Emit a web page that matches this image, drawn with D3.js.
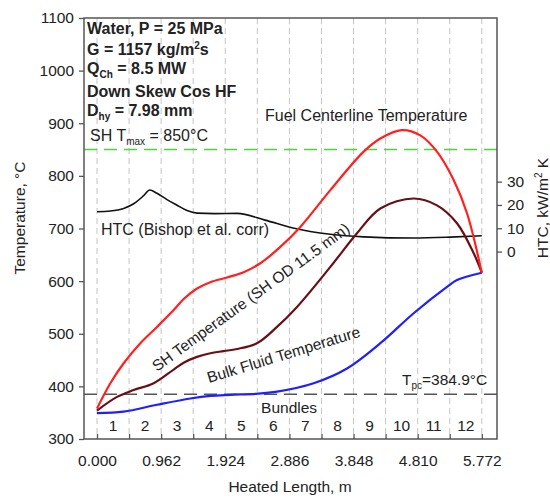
<!DOCTYPE html>
<html>
<head>
<meta charset="utf-8">
<script src="https://cdn.jsdelivr.net/npm/d3@7"></script>
<style>
  body { margin: 0; background: #fff; }
  text { font-family: "Liberation Sans", Arial, sans-serif; fill: #222; }
</style>
</head>
<body>
<svg id="chart" width="550" height="498"></svg>
<script>
// ---- data ----
const bundleLength = 0.481;                       // m, one bundle
const bundleNumbers = [1, 2, 3, 4, 5, 6, 7, 8, 9, 10, 11, 12];
const xTickLabels = [0.000, 0.962, 1.924, 2.886, 3.848, 4.810, 5.772];
const tempTicks = [300, 400, 500, 600, 700, 800, 900, 1000, 1100];
const htcTicks = [0, 10, 20, 30];

// Fuel centerline temperature, degC
const fuelX = [0, 0.2, 0.4, 0.65, 0.9, 1.15, 1.3, 1.5, 1.7, 1.95, 2.2, 2.45, 2.75, 3.05, 3.5, 4.0, 4.25, 4.57, 4.85, 5.1, 5.35, 5.55, 5.772];
const fuelT = [358, 406, 444, 482, 513, 545, 566, 586, 598, 607, 617, 634, 665, 703, 773, 846, 871, 887, 877, 846, 792, 729, 616];

// Sheath temperature (SH OD 11.5 mm), degC
const sheathX = [0, 0.3, 0.55, 0.85, 1.15, 1.3, 1.5, 1.7, 1.9, 2.1, 2.4, 2.7, 3.0, 3.5, 3.9, 4.25, 4.75, 5.1, 5.4, 5.65, 5.772];
const sheathT = [354, 380, 393, 406, 432, 445, 456, 463, 467, 471, 482, 513, 551, 627, 691, 738, 757, 744, 710, 653, 616];

// Bulk fluid temperature, degC
const bulkX = [0, 0.4, 0.9, 1.4, 1.7, 2.0, 2.4, 2.7, 3.25, 3.75, 4.25, 4.75, 5.25, 5.4, 5.772];
const bulkT = [349, 352, 365, 377, 382, 384, 386, 390, 406, 434, 482, 539, 589, 602, 616];

// Heat transfer coefficient (Bishop et al. corr), kW/m2K
const htcX = [0, 0.2, 0.4, 0.55, 0.7, 0.79, 0.9, 1.05, 1.2, 1.35, 1.5, 1.77, 2.1, 2.52, 2.94, 3.5, 4.0, 4.75, 5.3, 5.772];
const htcV = [17.1, 17.4, 18.5, 20.5, 24.0, 26.4, 25.0, 22.3, 19.9, 17.6, 16.5, 16.3, 16.4, 13.5, 10.1, 7.4, 6.3, 5.8, 6.2, 6.8];

const shTmax = 850;      // degC
const tPseudo = 384.9;   // degC

// ---- layout ----
const svg = d3.select("#chart");
const m = { left: 84, top: 18, right: 53, bottom: 59 };
const W = 550 - m.left - m.right;
const H = 498 - m.top - m.bottom;
const g = svg.append("g").attr("transform", `translate(${m.left},${m.top})`);

const x = d3.scaleLinear().domain([-0.195, 6.0]).range([0, W]);
const y = d3.scaleLinear().domain([300, 1100]).range([H, 0]);
const yHtc = d3.scaleLinear().domain([-80.4, 100.2]).range([H, 0]);

const boundaries = d3.range(0, 13).map(i => +(i * bundleLength).toFixed(3));

// vertical bundle boundary grid
g.selectAll("line.grid").data(boundaries).join("line")
  .attr("class", "grid")
  .attr("x1", d => x(d)).attr("x2", d => x(d))
  .attr("y1", 0).attr("y2", H)
  .attr("stroke", "#c4c4c4").attr("stroke-width", 1)
  .attr("stroke-dasharray", "6,4");

// reference lines
g.append("line")
  .attr("x1", 0).attr("x2", W)
  .attr("y1", y(shTmax)).attr("y2", y(shTmax))
  .attr("stroke", "#52d040").attr("stroke-width", 1.6)
  .attr("stroke-dasharray", "13,7");
g.append("line")
  .attr("x1", 0).attr("x2", W)
  .attr("y1", y(tPseudo)).attr("y2", y(tPseudo))
  .attr("stroke", "#555").attr("stroke-width", 1.6)
  .attr("stroke-dasharray", "13,7");

// curves
const curve = d3.curveCatmullRom.alpha(0.5);
const tempLine = d3.line().x(d => x(d[0])).y(d => y(d[1])).curve(curve);
const htcLine = d3.line().x(d => x(d[0])).y(d => yHtc(d[1])).curve(d3.curveMonotoneX);
const zip = (a, b) => a.map((v, i) => [v, b[i]]);

g.append("path").datum(zip(htcX, htcV)).attr("d", htcLine)
  .attr("fill", "none").attr("stroke", "#111").attr("stroke-width", 1.6);
g.append("path").datum(zip(bulkX, bulkT)).attr("d", tempLine)
  .attr("fill", "none").attr("stroke", "#1f1fff").attr("stroke-width", 2.2);
g.append("path").datum(zip(sheathX, sheathT)).attr("d", tempLine)
  .attr("fill", "none").attr("stroke", "#6a0f14").attr("stroke-width", 2.2);
g.append("path").datum(zip(fuelX, fuelT)).attr("d", tempLine)
  .attr("fill", "none").attr("stroke", "#ff2020").attr("stroke-width", 2.2);

// axes
const labelled = new Set(xTickLabels.map(v => v.toFixed(3)));
const xAxis = d3.axisBottom(x).tickValues(boundaries)
  .tickSizeInner(-5).tickSizeOuter(0).tickPadding(16)
  .tickFormat(d => labelled.has(d.toFixed(3)) ? d.toFixed(3) : "");
const gx = g.append("g").attr("transform", `translate(0,${H})`).call(xAxis);

const yAxis = d3.axisLeft(y).tickValues(tempTicks).tickSize(5).tickPadding(5)
  .tickFormat(d3.format("d"));
const gy = g.append("g").call(yAxis);

const rAxis = d3.axisRight(yHtc).tickValues(htcTicks).tickSize(5).tickPadding(5)
  .tickFormat(d3.format("d"));
const gr = g.append("g").attr("transform", `translate(${W},0)`).call(rAxis);

[gx, gy, gr].forEach(a => {
  a.select(".domain").remove();
  a.selectAll("line").attr("stroke", "#555").attr("stroke-width", 1.3);
  a.selectAll("text").attr("font-size", 15.5).attr("fill", "#222")
    .attr("font-family", '"Liberation Sans", Arial, sans-serif');
});

// frame
g.append("rect").attr("x", 0).attr("y", 0).attr("width", W).attr("height", H)
  .attr("fill", "none").attr("stroke", "#555").attr("stroke-width", 1.5);

// axis titles
svg.append("text").attr("x", 290).attr("y", 492).attr("text-anchor", "middle")
  .attr("font-size", 15.5).text("Heated Length, m");
svg.append("text").attr("transform", "translate(25,218) rotate(-90)")
  .attr("text-anchor", "middle").attr("font-size", 15.5).text("Temperature, °C");
const htcTitle = svg.append("text").attr("transform", "translate(548,208) rotate(-90)")
  .attr("text-anchor", "middle").attr("font-size", 15.5);
htcTitle.append("tspan").text("HTC, kW/m");
htcTitle.append("tspan").attr("font-size", 10).attr("dy", -6).text("2");
htcTitle.append("tspan").attr("dy", 6).text(" K");

// bundle labels
g.append("text").attr("x", x(2.886) - 0.3).attr("y", 413 - m.top)
  .attr("text-anchor", "middle").attr("font-size", 15.5).text("Bundles");
g.selectAll("text.bundle").data(bundleNumbers).join("text")
  .attr("class", "bundle")
  .attr("x", d => x((d - 0.5) * bundleLength))
  .attr("y", 431 - m.top)
  .attr("text-anchor", "middle").attr("font-size", 15.5).text(d => d);

// info block
const info = svg.append("g").attr("font-weight", "bold").attr("font-size", 16);
info.append("text").attr("x", 87).attr("y", 34).text("Water, P = 25 MPa");
const gLine = info.append("text").attr("x", 87).attr("y", 55);
gLine.append("tspan").text("G = 1157 kg/m");
gLine.append("tspan").attr("font-size", 10).attr("dy", -6).text("2");
gLine.append("tspan").attr("dy", 6).text("s");
const qLine = info.append("text").attr("x", 87).attr("y", 74);
qLine.append("tspan").text("Q");
qLine.append("tspan").attr("font-size", 10).attr("dy", 4).text("Ch");
qLine.append("tspan").attr("dy", -4).text(" = 8.5 MW");
info.append("text").attr("x", 87).attr("y", 97).text("Down Skew Cos HF");
const dLine = info.append("text").attr("x", 87).attr("y", 116);
dLine.append("tspan").text("D");
dLine.append("tspan").attr("font-size", 10).attr("dy", 4).text("hy");
dLine.append("tspan").attr("dy", -4).text(" = 7.98 mm");

const tmax = svg.append("text").attr("x", 90).attr("y", 141).attr("font-size", 16);
tmax.append("tspan").text("SH T");
tmax.append("tspan").attr("font-size", 10).attr("dy", 4).text("max");
tmax.append("tspan").attr("dy", -4).text(" = 850°C");

// curve annotations
svg.append("text").attr("x", 265).attr("y", 121).attr("font-size", 16)
  .text("Fuel Centerline Temperature");
svg.append("text").attr("x", 101).attr("y", 235).attr("font-size", 16)
  .text("HTC (Bishop et al. corr)");
svg.append("text").attr("transform", "translate(157,372) rotate(-36)")
  .attr("font-size", 15.5).text("SH Temperature (SH OD 11.5 mm)");
svg.append("text").attr("transform", "translate(209,383) rotate(-17)")
  .attr("font-size", 15.5).text("Bulk Fluid Temperature");

const tpc = svg.append("text").attr("x", 402).attr("y", 385).attr("font-size", 15.5);
tpc.append("tspan").text("T");
tpc.append("tspan").attr("font-size", 10).attr("dy", 4).text("pc");
tpc.append("tspan").attr("dy", -4).text("=384.9°C");
</script>
</body>
</html>
